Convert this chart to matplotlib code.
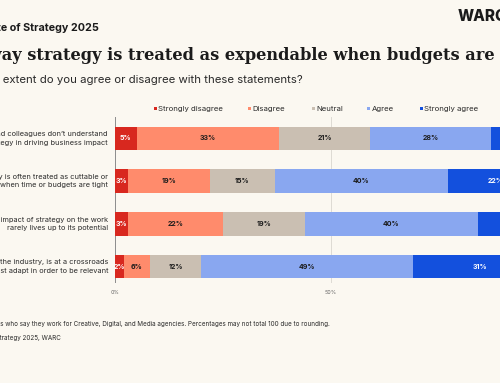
import matplotlib
matplotlib.use("Agg")
import matplotlib.pyplot as plt
from matplotlib.patches import Rectangle

# ---------------- data ----------------
statements = [
    "My clients and colleagues don\u2019t understand\nthe value of strategy in driving business impact",
    "Strategy is often treated as cuttable or\nexpendable when time or budgets are tight",
    "The impact of strategy on the work\nrarely lives up to its potential",
    "Strategy, like the industry, is at a crossroads\nand must adapt in order to be relevant",
]
categories = ["Strongly disagree", "Disagree", "Neutral", "Agree", "Strongly agree"]
strongly_disagree = [5, 3, 3, 2]
disagree = [33, 19, 22, 6]
neutral = [21, 15, 19, 12]
agree = [28, 40, 40, 49]
strongly_agree = [13, 22, 16, 31]
xticks = [0, 50, 100]
xtick_labels = ["0%", "50%", "100%"]

colors = ["#D8281F", "#FF8B6C", "#CABFB2", "#89A7F0", "#1350DD"]
label_colors = ["white", "#1b1b1b", "#1b1b1b", "#1b1b1b", "white"]
BG = "#FBF8F1"
DARK = "#1b1b1b"

W, H = 500, 383
fig = plt.figure(figsize=(W / 100, H / 100), dpi=100, facecolor=BG)
renderer = fig.canvas.get_renderer()
SANS = "Inter"
SERIF = "DejaVu Serif"


def tw(s, size, **kw):
    t = fig.text(0, 0, s, fontsize=size, **kw)
    w = t.get_window_extent(renderer).width
    t.remove()
    return w


def fit(s, width_px, **kw):
    return 10 * width_px / tw(s, 10, **kw)


def clipped(prefix, full, x_vis, y, size, **kw):
    rest = full[len(prefix):]
    adv = tw(full, size, **kw) - tw(rest, size, **kw)
    fig.text((x_vis - adv) / W, 1 - y / H, full, fontsize=size,
             ha="left", va="center", **kw)


# ---------------- header texts ----------------
kw_h = dict(family=SANS, weight="bold", color=DARK)
s = fit("e of Strategy 2025", 98, **kw_h)
clipped("The Stat", "The State of Strategy 2025", 1, 28, s, **kw_h)

fig.text(458 / W, 1 - 16.5 / H, "WARC", fontsize=11, family=SANS,
         weight="heavy", color=DARK, ha="left", va="center")

kw_t = dict(family=SERIF, weight="bold", color=DARK)
s = fit("ay strategy is treated as expendable when budgets are", 495, **kw_t)
clipped("The w", "The way strategy is treated as expendable when budgets are tight",
        2, 56, s, **kw_t)

kw_s = dict(family=SANS, color="#2a2a2a")
s = fit("extent do you agree or disagree with these statements?", 300, **kw_s)
clipped("To what ", "To what extent do you agree or disagree with these statements?",
        3, 80, s, **kw_s)

# ---------------- axes ----------------
ax = fig.add_axes([115 / W, 1 - 283 / H, 432 / W, 166 / H])
ax.set_facecolor("none")
ax.set_xlim(0, 100)
ax.set_ylim(3.386, -0.503)
for sp in ax.spines.values():
    sp.set_visible(False)
ax.set_yticks([])

series = [strongly_disagree, disagree, neutral, agree, strongly_agree]
ypos = list(range(len(statements)))
lab_size = fit("33%", 16, family=SANS, weight="bold")
left = [0] * len(statements)
for vals, col, lc in zip(series, colors, label_colors):
    bars = ax.barh(ypos, vals, left=left, height=0.55, color=col, zorder=2)
    for b, v in zip(bars, vals):
        ax.text(b.get_x() + b.get_width() / 2, b.get_y() + b.get_height() / 2,
                f"{v}%", ha="center", va="center", fontsize=lab_size,
                family=SANS, weight="bold", color=lc, zorder=3)
    left = [l + v for l, v in zip(left, vals)]

grid_cols = ["#8c8c8c", "#dedbd4", "#dedbd4"]
for xv, gc in zip(xticks, grid_cols):
    ax.axvline(xv, color=gc, lw=0.7, zorder=1)

tick_size = fit("50%", 12, family=SANS)
ax.set_xticks(xticks)
ax.set_xticklabels(xtick_labels, fontsize=tick_size, family=SANS, color="#666666")
ax.tick_params(axis="x", length=0, pad=5)

# ---------------- row labels ----------------
kw_y = dict(family=SANS, color="#2a2a2a")
ysz = fit("d colleagues don\u2019t understand", 106, **kw_y)
for yp, st in zip(ypos, statements):
    ax.text(-7 / 4.32, yp, st, ha="right", va="center", fontsize=ysz,
            linespacing=1.45, multialignment="right", **kw_y)

# ---------------- legend ----------------
leg_size = fit("Strongly disagree", 65, family=SANS)
leg_marker_x = [155, 249, 313, 368, 421]
for mx, cat, col in zip(leg_marker_x, categories, colors):
    fig.add_artist(Rectangle(((mx - 1.5) / W, 1 - 110 / H), 3 / W, 3 / H,
                             transform=fig.transFigure, color=col, lw=0))
    fig.text((mx + 3.5) / W, 1 - 109 / H, cat, fontsize=leg_size, family=SANS,
             color="#2a2a2a", ha="left", va="center")

# ---------------- footnotes ----------------
kw_f = dict(family=SANS, color="#2a2a2a")
note_vis = ("s who say they work for Creative, Digital, and Media agencies. "
            "Percentages may not total 100 due to rounding.")
fs = fit(note_vis, 330, **kw_f)
clipped("Note: Includes respondent", "Note: Includes respondent" + note_vis, 0, 324, fs, **kw_f)
clipped("Source: The State of S", "Source: The State of Strategy 2025, WARC", 0, 338, fs, **kw_f)

fig.savefig("out.png", dpi=100, facecolor=BG)
